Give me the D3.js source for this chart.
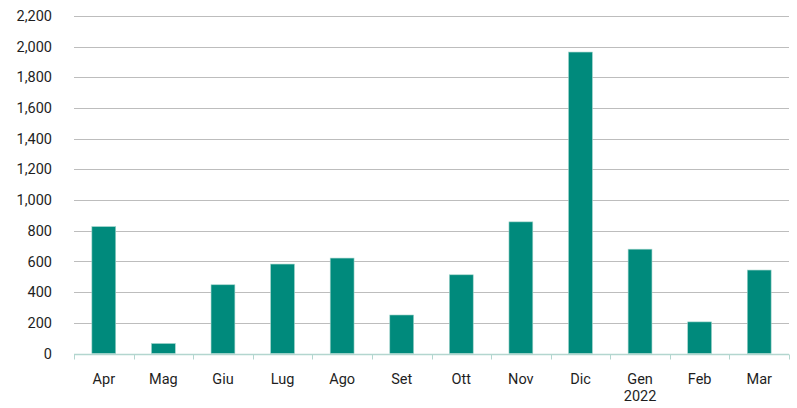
<!DOCTYPE html>
<html>
<head>
<meta charset="utf-8">
<script src="https://cdn.jsdelivr.net/npm/d3@7"></script>
<style>
  body { margin: 0; background: #fff; }
  text { font-family: Roboto, "DejaVu Sans", sans-serif; fill: #1e1e1e; }
</style>
</head>
<body>
<svg id="chart" width="797" height="408"></svg>
<script>
// data
const months = ['Apr', 'Mag', 'Giu', 'Lug', 'Ago', 'Set', 'Ott', 'Nov', 'Dic', 'Gen', 'Feb', 'Mar'];
const values = [827, 65, 448, 583, 622, 251, 513, 858, 1965, 680, 206, 544];
const yTicks = [0, 200, 400, 600, 800, 1000, 1200, 1400, 1600, 1800, 2000, 2200];
const subLabels = { 'Gen': '2022' };

const margin = { top: 16, right: 8, bottom: 55, left: 74 };
const width = 797, height = 408;
const svg = d3.select('#chart');

const x = d3.scaleBand()
  .domain(months)
  .range([margin.left, width - margin.right])
  .paddingInner(0.6)
  .paddingOuter(0.3);

const y = d3.scaleLinear()
  .domain([0, 2200])
  .range([height - margin.bottom + 0.5, margin.top]);

const fmt = d3.format(',');

// gridlines
svg.append('g')
  .selectAll('line')
  .data(yTicks.filter(d => d > 0))
  .join('line')
  .attr('x1', margin.left)
  .attr('x2', width - margin.right)
  .attr('y1', d => Math.round(y(d)) + 0.5)
  .attr('y2', d => Math.round(y(d)) + 0.5)
  .attr('stroke', '#bdbdbd')
  .attr('stroke-width', 1);

// y labels
svg.append('g')
  .selectAll('text')
  .data(yTicks)
  .join('text')
  .attr('x', 52)
  .attr('y', d => y(d))
  .attr('dy', '0.35em')
  .attr('text-anchor', 'end')
  .style('font-size', '14.5px')
  .text(d => fmt(d));

// bars
svg.append('g')
  .selectAll('rect')
  .data(values)
  .join('rect')
  .attr('x', (d, i) => x(months[i]))
  .attr('y', d => y(d))
  .attr('width', x.bandwidth())
  .attr('height', d => y(0) - y(d))
  .attr('fill', '#008a7c')
  .attr('stroke', '#9fd3ca')
  .attr('stroke-width', 0.6);

// x axis line + ticks
const step = x.step();
const bounds = months.map((m, i) => margin.left + i * step).concat([width - margin.right]);
const axisY = Math.round(y(0)) + 0.5;
svg.append('line')
  .attr('x1', margin.left)
  .attr('x2', width - margin.right)
  .attr('y1', axisY)
  .attr('y2', axisY)
  .attr('stroke', '#b3d6cf')
  .attr('stroke-width', 1.5);

svg.append('g')
  .selectAll('line')
  .data(bounds)
  .join('line')
  .attr('x1', d => Math.round(d) + 0.5)
  .attr('x2', d => Math.round(d) + 0.5)
  .attr('y1', axisY)
  .attr('y2', axisY + 5)
  .attr('stroke', '#b3d6cf')
  .attr('stroke-width', 1);

// x labels
svg.append('g')
  .selectAll('text')
  .data(months)
  .join('text')
  .attr('x', d => x(d) + x.bandwidth() / 2)
  .attr('y', 384)
  .attr('text-anchor', 'middle')
  .style('font-size', '14.5px')
  .text(d => d);

svg.append('g')
  .selectAll('text')
  .data(months.filter(m => subLabels[m]))
  .join('text')
  .attr('x', d => x(d) + x.bandwidth() / 2)
  .attr('y', 401)
  .attr('text-anchor', 'middle')
  .style('font-size', '14.5px')
  .text(d => subLabels[d]);
</script>
</body>
</html>
